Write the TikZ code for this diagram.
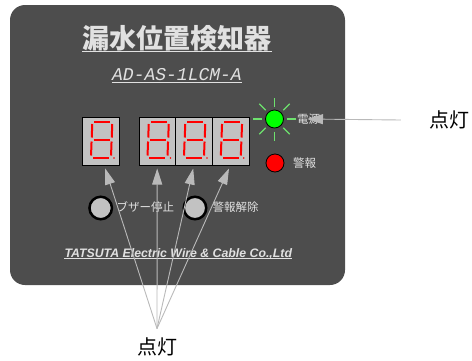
\documentclass[tikz,border=0pt]{standalone}
\usepackage{fontspec}
\setmainfont{Liberation Sans}
\newfontfamily\jpfont{Noto Sans CJK JP}
\newfontfamily\monofont{Liberation Mono}
\usetikzlibrary{arrows.meta}

\definecolor{panelgray}{RGB}{77,77,77}
\definecolor{inkgray}{RGB}{225,225,225}
\definecolor{segred}{RGB}{255,0,0}
\definecolor{boxgray}{RGB}{194,194,194}
\definecolor{leadgray}{RGB}{185,185,185}
\definecolor{glow}{RGB}{110,225,110}

\begin{document}
\begin{tikzpicture}[
  x=1pt, y=-1pt,
  panel/.style={fill=panelgray, rounded corners=15pt},
  digitbox/.style={rectangle, draw=black, line width=1pt, fill=boxgray, minimum width=36.5pt, minimum height=48pt, inner sep=0pt},
  segment/.style={draw=segred, line width=2pt},
  lamp/.style={circle, draw=black, line width=0.8pt, minimum size=18pt, inner sep=0pt},
  ray/.style={draw=glow, line width=1.2pt},
  button/.style={circle, draw=black, line width=2.5pt, fill=boxgray, minimum size=22.5pt, inner sep=0pt},
  caption/.style={font=\jpfont\fontsize{11.5}{12}\selectfont, text=inkgray, inner sep=0pt, anchor=west},
  callout/.style={font=\jpfont\fontsize{20}{22}\selectfont, inner sep=0pt},
  heading/.style={anchor=base, text=inkgray, inner sep=0pt},
  uline/.style={draw=inkgray, line width=1pt},
  lead/.style={draw=leadgray, line width=0.9pt, -{Triangle[length=16pt,width=10pt]}}
]
\useasboundingbox (0,0) rectangle (472,360);

% front panel
\fill[panel] (10,5) rectangle (345,285);

\node[heading, font=\jpfont\bfseries\fontsize{27}{30}\selectfont] (title) at (177,48) {漏水位置検知器};
\draw[uline, line width=1.5pt] ([yshift=-3.5pt]title.base west) -- ([yshift=-3.5pt]title.base east);

\node[heading, font=\monofont\itshape\fontsize{18}{20}\selectfont] (model) at (177,80) {AD-AS-1LCM-A};
\draw[uline] ([yshift=-2pt]model.base west) -- ([yshift=-2pt]model.base east);

% 7-segment digits
\foreach \i/\x in {1/101.2, 2/157.7, 3/194.2, 4/231} {
  \node[digitbox] (d\i) at (\x,141) {};
  \begin{scope}[shift={(d\i.north west)}]
    \foreach \a/\b in {{11.9,5.5}/{27.9,5.5}, {11.2,23}/{27.2,23}, {10.5,41}/{26.5,41},
                       {9.8,7.5}/{9.3,21}, {29.8,7.5}/{29.3,21},
                       {9.1,25}/{8.6,39}, {29.1,25}/{28.6,39}}
      \draw[segment] (\a) -- (\b);
    \fill[segred] (31.5,41.5) circle (0.9pt);
  \end{scope}
}

% lamps
\node[lamp, fill=green] (pwr) at (274.5,119) {};
\foreach \ang in {0,45,...,315}
  \draw[ray] ([shift={(\ang:12.5)}]pwr.center) -- ([shift={(\ang:21.5)}]pwr.center);
\node[caption] (pwrlbl) at (297,119) {電源};

\node[lamp, fill=red] (alm) at (275,163) {};
\node[caption] (almlbl) at (293,163) {警報};

% buttons
\node[button] (stop) at (100.7,208) {};
\node[caption] (stoplbl) at (116.5,207) {ブザー停止};
\node[button] (reset) at (195,208) {};
\node[caption] (resetlbl) at (212.5,207) {警報解除};

\node[heading, font=\bfseries\itshape\fontsize{12.3}{14}\selectfont] (maker) at (178.3,257) {TATSUTA Electric Wire \& Cable Co.,Ltd};
\draw[uline] ([yshift=-1.5pt]maker.base west) -- ([yshift=-1.5pt]maker.base east);

% callouts
\node[callout] (lit1) at (157,347) {点灯};
\node[callout] (lit2) at (449,120) {点灯};

\draw[lead] ([yshift=9pt]lit1.north) -- ([shift={(4,3)}]d1.south);
\draw[lead] ([yshift=9pt]lit1.north) -- ([shift={(-0.5,3)}]d2.south);
\draw[lead] ([yshift=9pt]lit1.north) -- ([shift={(-1,3)}]d3.south);
\draw[lead] ([yshift=9pt]lit1.north) -- ([shift={(-2,3)}]d4.south);
\draw[lead] ([xshift=-28pt]lit2.west) -- ([xshift=10pt]pwrlbl.west);

\end{tikzpicture}
\end{document}
